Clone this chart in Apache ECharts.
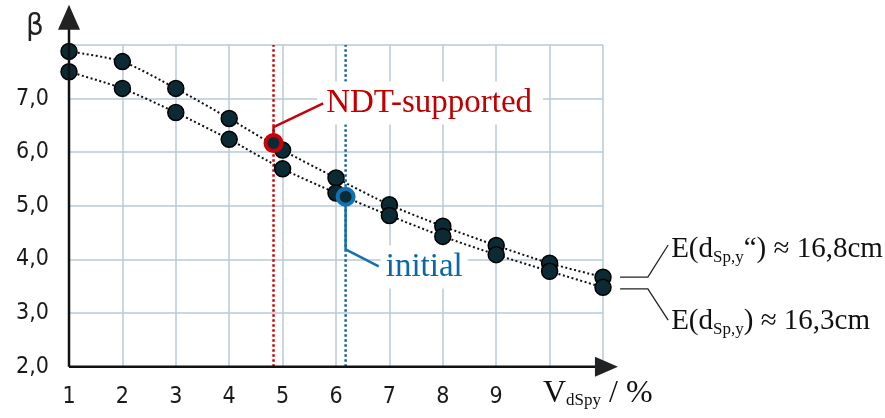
<!DOCTYPE html>
<html><head><meta charset="utf-8">
<script src="https://cdn.jsdelivr.net/npm/echarts@6/dist/echarts.min.js"></script>
<style>html,body{margin:0;padding:0;background:#fff}#c{width:885px;height:418px}</style>
</head><body><div id="c"></div>
<script>
// ---- data ----
const xValues = [1, 2, 3, 4, 5, 6, 7, 8, 9, 10, 11];
const upperBeta = [7.88, 7.69, 7.19, 6.63, 6.04, 5.52, 5.02, 4.62, 4.26, 3.93, 3.67];
const lowerBeta = [7.50, 7.19, 6.74, 6.24, 5.69, 5.24, 4.82, 4.43, 4.09, 3.78, 3.48];
const ndtPoint = [4.83, 6.17];
const initialPoint = [6.18, 5.17];
const xTickLabels = ['1', '2', '3', '4', '5', '6', '7', '8', '9'];
const yTickLabels = ['2,0', '3,0', '4,0', '5,0', '6,0', '7,0'];
const ndtCallout = [[4.83, 6.17], [4.83, 6.47], [5.76, 6.91]];
const initialCallout = [[6.18, 5.17], [6.18, 4.19], [6.80, 3.87]];
const upperBrace = [[11.32, 3.67], [11.84, 3.67], [12.22, 4.27]];
const lowerBrace = [[11.32, 3.45], [11.84, 3.45], [12.22, 2.87]];
const labelNDT = 'NDT-supported';
const labelInitial = 'initial';
const labelUpper = ['E(d', 'Sp,y', '“) ≈ 16,8cm'];
const labelLower = ['E(d', 'Sp,y', ') ≈ 16,3cm'];
const axisTitleX = ['V', 'dSpy', ' / %'];
const axisTitleY = 'β';

const RED = '#c8000a', BLUE = '#1470b0', DOT = '#0c2a33';
const SERIF = "'Liberation Serif','Times New Roman',serif";
const SANS = "'DejaVu Sans Condensed','Liberation Sans Narrow','DejaVu Sans',sans-serif";

const chart = echarts.init(document.getElementById('c'), null, {renderer: 'canvas'});
const zip = (xs, ys) => xs.map((x, i) => [x, ys[i]]);
const dataLine = (name, ys) => ({
  name, type: 'line', data: zip(xValues, ys), smooth: 0.25, z: 3,
  symbol: 'circle', symbolSize: 16,
  itemStyle: {color: DOT, borderColor: '#000', borderWidth: 1.5, opacity: 1},
  lineStyle: {color: '#111', width: 2, type: [2, 2.5]}
});
const plain = (name, data, color, width, type, z) => ({
  name, type: 'line', data, symbol: 'none', z,
  lineStyle: {color, width, type}
});
chart.setOption({
  animation: false,
  grid: {left: 69, top: 45, right: 282, bottom: 51.3},
  xAxis: {
    type: 'value', min: 1, max: 11, interval: 1,
    axisLine: {show: false}, axisTick: {show: false},
    axisLabel: {margin: 19, fontSize: 23, color: '#1a1a1a', fontFamily: SANS,
      formatter: v => xTickLabels[Math.round(v) - 1] || ''},
    splitLine: {show: true, lineStyle: {color: '#b9cad6', width: 1.5}}
  },
  yAxis: {
    type: 'value', min: 2, max: 8, interval: 1,
    axisLine: {show: false}, axisTick: {show: false},
    axisLabel: {margin: 20, fontSize: 23, color: '#1a1a1a', fontFamily: SANS,
      formatter: v => yTickLabels[Math.round(v) - 2] || ''},
    splitLine: {show: true, lineStyle: {color: '#b9cad6', width: 1.5}}
  },
  series: [
    plain('ndtV', [[ndtPoint[0], 2], [ndtPoint[0], 8]], '#d00000', 2.5, [2.5, 2.5], 1),
    plain('initV', [[initialPoint[0], 2], [initialPoint[0], 8]], '#1560a8', 2.5, [2.5, 2.5], 1),
    dataLine('upper', upperBeta),
    dataLine('lower', lowerBeta),
    plain('ndtCallout', ndtCallout, RED, 2.5, 'solid', 4),
    plain('initCallout', initialCallout, BLUE, 2.5, 'solid', 4),
    {type: 'scatter', data: [ndtPoint], symbolSize: 16, z: 5,
      itemStyle: {color: DOT, borderColor: RED, borderWidth: 4, opacity: 1}},
    {type: 'scatter', data: [initialPoint], symbolSize: 16, z: 5,
      itemStyle: {color: DOT, borderColor: BLUE, borderWidth: 4, opacity: 1}}
  ]
});

const px = p => chart.convertToPixel({gridIndex: 0}, p);
const ctx = document.createElement('canvas').getContext('2d');
const measure = (t, size, fam) => { ctx.font = size + 'px ' + fam; return ctx.measureText(t).width; };
function pieces(x, baseline, parts, color, z) {
  const out = [];
  parts.forEach(p => {
    out.push({type: 'text', z, x, y: baseline + (p.dy || 0) - 0.3 * p.size,
      style: {text: p.t, fontSize: p.size, fontFamily: p.fam || SERIF, fill: color,
        verticalAlign: 'middle', align: 'left'}});
    x += measure(p.t, p.size, p.fam || SERIF);
  });
  return out;
}
const g = [];
const o = px([1, 2]);
const xEnd = px([11.28, 2]), yEnd = px([1, 8.75]);
g.push({type: 'line', z: 6, shape: {x1: o[0], y1: o[1], x2: xEnd[0] - 18, y2: o[1]}, style: {stroke: '#111', lineWidth: 2.5}});
g.push({type: 'polygon', z: 6, shape: {points: [[xEnd[0], o[1]], [xEnd[0] - 23, o[1] - 10], [xEnd[0] - 23, o[1] + 10]]}, style: {fill: '#222'}});
g.push({type: 'line', z: 6, shape: {x1: o[0], y1: o[1], x2: o[0], y2: yEnd[1] + 20}, style: {stroke: '#111', lineWidth: 2.5}});
g.push({type: 'polygon', z: 6, shape: {points: [[o[0], yEnd[1]], [o[0] - 11, yEnd[1] + 25], [o[0] + 11, yEnd[1] + 25]]}, style: {fill: '#222'}});
[upperBrace, lowerBrace].forEach(b => {
  g.push({type: 'polyline', z: 6, shape: {points: b.map(px)}, style: {stroke: '#222', lineWidth: 1.3, fill: null}});
});
const nA = px(ndtCallout[2]);
const nW = measure(labelNDT, 33, SERIF);
g.push({type: 'rect', z: 2, shape: {x: nA[0] - 6, y: nA[1] - 22, width: nW + 20, height: 43}, style: {fill: '#fff'}});
g.push(...pieces(nA[0] + 3, nA[1] + 10, [{t: labelNDT, size: 33}], '#c00000', 7));
const iA = px(initialCallout[2]);
const iW = measure(labelInitial, 33, SERIF);
g.push({type: 'rect', z: 2, shape: {x: iA[0] + 2, y: iA[1] - 21, width: iW + 10, height: 43}, style: {fill: '#fff'}});
g.push(...pieces(iA[0] + 7, iA[1] + 11, [{t: labelInitial, size: 33}], '#0b67a8', 7));
const uA = px(upperBrace[2]), lA = px(lowerBrace[2]);
g.push(...pieces(uA[0] + 3, uA[1] + 13, [{t: labelUpper[0], size: 29}, {t: labelUpper[1], size: 17, dy: 5}, {t: labelUpper[2], size: 29}], '#111', 7));
g.push(...pieces(lA[0] + 3, lA[1] + 10, [{t: labelLower[0], size: 29}, {t: labelLower[1], size: 17, dy: 5}, {t: labelLower[2], size: 29}], '#111', 7));
g.push(...pieces(543, 403, [{t: axisTitleX[0], size: 32}, {t: axisTitleX[1], size: 17, dy: 3}, {t: axisTitleX[2], size: 32}], '#111', 7));
g.push({type: 'text', z: 7, x: 26, y: 27, style: {text: axisTitleY, fontSize: 31, fontFamily: SANS, fill: '#222', verticalAlign: 'middle', align: 'left'}});
chart.setOption({graphic: g});
</script></body></html>
